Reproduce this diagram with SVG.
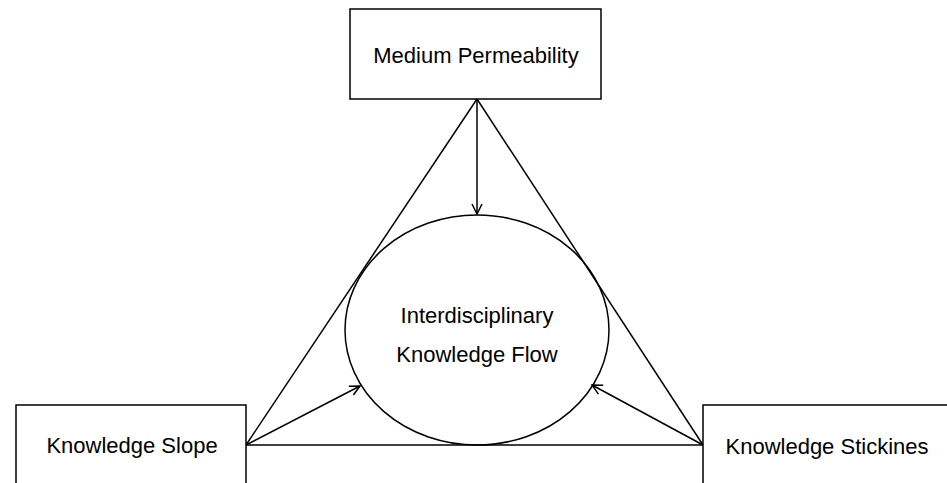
<svg xmlns="http://www.w3.org/2000/svg" width="947" height="483" viewBox="0 0 947 483">
<style>
.box{fill:#fff;stroke:#000;stroke-width:1.5}
.ln{fill:none;stroke:#000;stroke-width:1.5}
.t{font-family:"Liberation Sans",Arial,sans-serif;font-size:22px;fill:#000;text-anchor:middle}
</style>
<defs>
<marker id="arr" viewBox="0 0 12 12" refX="11" refY="6" markerWidth="12" markerHeight="12" markerUnits="userSpaceOnUse" orient="auto">
<path d="M1,1 L11,6 L1,11" fill="none" stroke="#000" stroke-width="1.5"/>
</marker>
</defs>
<rect width="947" height="483" fill="#fff"/>
<g id="connectors">
<line class="ln" x1="477" y1="99" x2="246" y2="445"/>
<line class="ln" x1="477" y1="99" x2="703" y2="445"/>
<line class="ln" x1="246" y1="445" x2="703" y2="445"/>
<line class="ln" x1="477" y1="99" x2="477" y2="214" marker-end="url(#arr)"/>
<line class="ln" x1="246" y1="445" x2="360" y2="386" marker-end="url(#arr)"/>
<line class="ln" x1="703" y1="445" x2="592" y2="385" marker-end="url(#arr)"/>
</g>
<g id="node-flow">
<ellipse class="ln" cx="477" cy="330" rx="132" ry="115"/>
<text class="t" x="477" y="323">Interdisciplinary</text>
<text class="t" x="477" y="362">Knowledge Flow</text>
</g>
<g id="node-medium">
<rect class="box" x="350" y="9" width="251" height="90"/>
<text class="t" x="476" y="63">Medium Permeability</text>
</g>
<g id="node-slope">
<rect class="box" x="16" y="405" width="230" height="90"/>
<text class="t" x="132" y="453">Knowledge Slope</text>
</g>
<g id="node-stickiness">
<rect class="box" x="703" y="405" width="260" height="90"/>
<text class="t" x="827" y="454">Knowledge Stickines</text>
</g>
</svg>
